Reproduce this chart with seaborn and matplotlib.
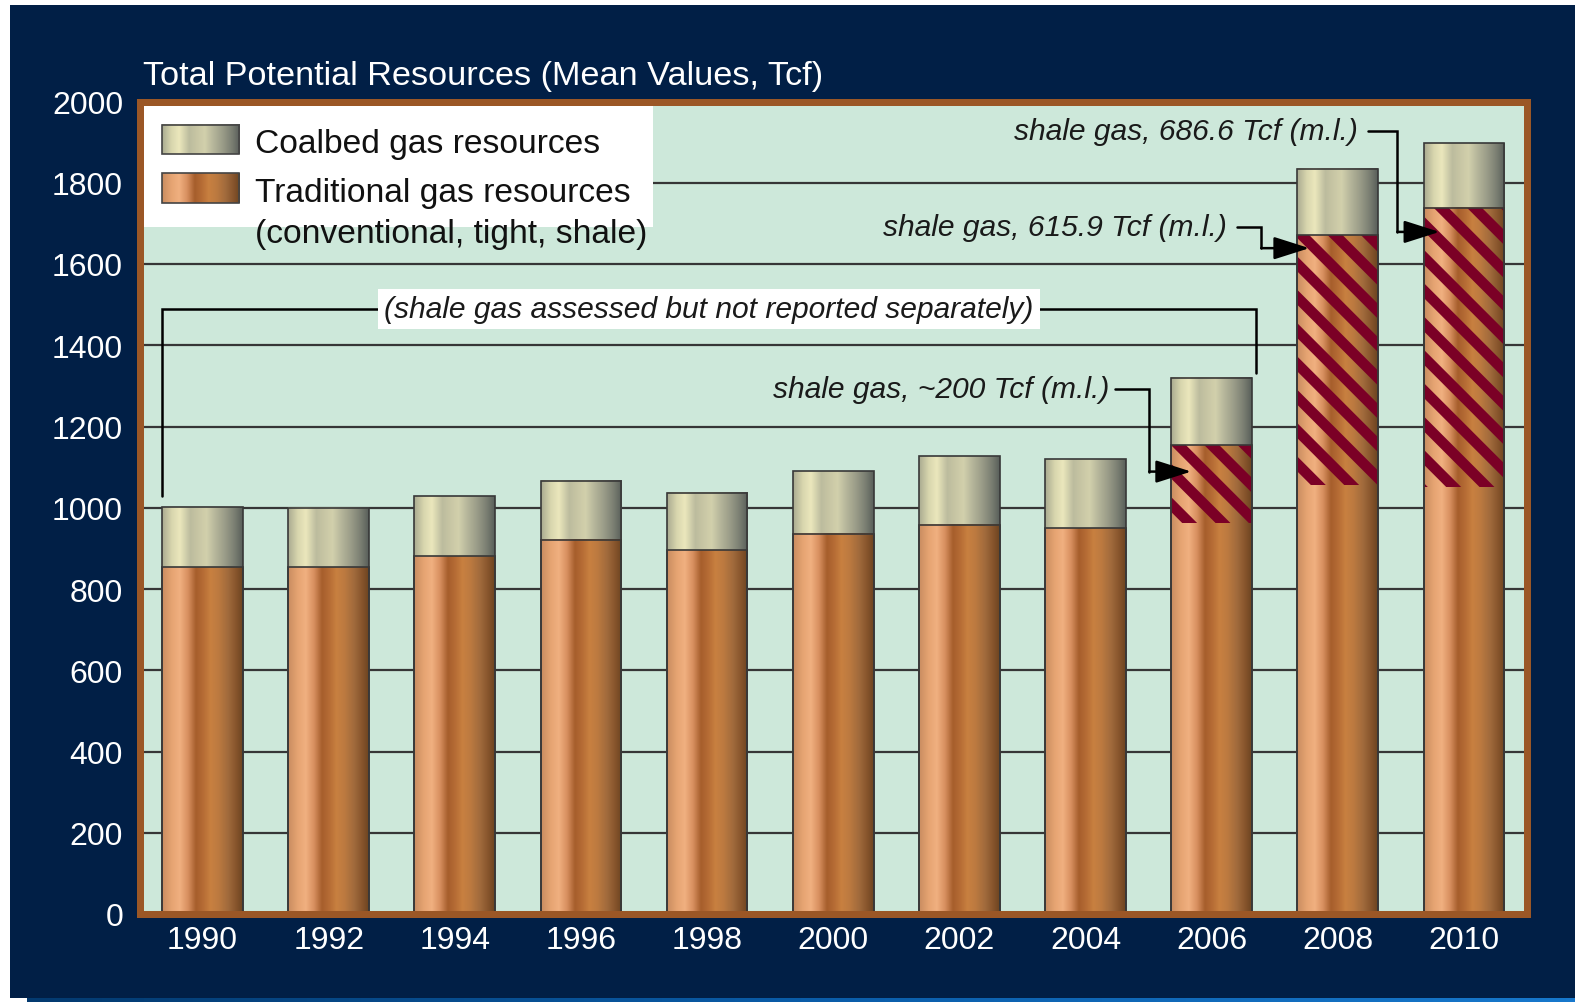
import numpy as np
import pandas as pd
import matplotlib
matplotlib.use("Agg")
import matplotlib.pyplot as plt
from matplotlib.colors import LinearSegmentedColormap
from matplotlib.patches import Rectangle
import seaborn as sns

# ---------------- data ----------------
years = ["1990", "1992", "1994", "1996", "1998", "2000", "2002", "2004", "2006", "2008", "2010"]
total_resources = [1001, 1000, 1028, 1067, 1037, 1090, 1127, 1119, 1320, 1834, 1897]
traditional_resources = [854, 853, 881, 921, 895, 936, 958, 950, 1154, 1671, 1738]
shale_years = ["2006", "2008", "2010"]
shale_resources = [192, 615.9, 686.6]
shale_labels = ["shale gas, ~200 Tcf (m.l.)", "shale gas, 615.9 Tcf (m.l.)", "shale gas, 686.6 Tcf (m.l.)"]
y_ticks = list(range(0, 2001, 200))
title_text = "Total Potential Resources (Mean Values, Tcf)"
legend_labels = ["Coalbed gas resources", "Traditional gas resources", "(conventional, tight, shale)"]
note_text = "(shale gas assessed but not reported separately)"

# ---------------- style ----------------
NAVY = "#011f46"
BROWN = "#9b5726"
MINT = "#cde8da"
EDGE = "#383838"
MAROON = "#7b0026"
TXT = "#1a1a1a"

sns.set_style("white")
plt.rcParams["font.family"] = ["Liberation Sans", "DejaVu Sans"]
plt.rcParams["hatch.linewidth"] = 3.8

copper = LinearSegmentedColormap.from_list("copper_bar", [
    (0.00, "#c88c60"), (0.12, "#e6a472"), (0.22, "#f0b080"), (0.32, "#d89060"),
    (0.42, "#a65e2c"), (0.50, "#b46a34"), (0.60, "#c88040"), (0.70, "#bc7a40"),
    (0.82, "#a06a3c"), (0.92, "#86542c"), (1.00, "#6c4420")])
coal = LinearSegmentedColormap.from_list("coal_bar", [
    (0.00, "#a9aa90"), (0.12, "#d8d6ae"), (0.22, "#ebe7bc"), (0.35, "#bcbc9e"),
    (0.45, "#c8c6a4"), (0.55, "#d2d0ac"), (0.65, "#b8b89c"), (0.78, "#9a9c88"),
    (0.90, "#7a7e72"), (1.00, "#585e5a")])
strip = LinearSegmentedColormap.from_list("strip", ["#033a70", "#0a5ca8", "#1778cc"])
grad = np.linspace(0, 1, 256).reshape(1, -1)

W, H, DPI = 1575, 1003, 200
fig = plt.figure(figsize=(W / DPI, H / DPI), dpi=DPI, facecolor="white")


def fx(px):
    return px / W


def fy(py):
    return 1 - py / H


# background panel (behind everything)
bg = fig.add_axes([fx(10), fy(999), 1 - fx(10), fy(6) - fy(999)], zorder=-10)
bg.set_facecolor(NAVY)
bg.set_xticks([])
bg.set_yticks([])
for s in bg.spines.values():
    s.set_visible(False)

sax = fig.add_axes([fx(27), 0, 1 - fx(27), 4 / H], zorder=-5)
sax.imshow(grad, cmap=strip, aspect="auto", interpolation="bilinear")
sax.set_axis_off()

ax = fig.add_axes([fx(139.5), fy(915), fx(1527) - fx(139.5), fy(102.5) - fy(915)], zorder=1)
ax.set_facecolor(MINT)

df = pd.DataFrame({"year": years, "total": total_resources, "trad": traditional_resources})

sns.barplot(data=df, x="year", y="total", color="#c8c6a4", width=0.64, errorbar=None,
            edgecolor=EDGE, linewidth=0.6, ax=ax, zorder=2)
n0 = len(ax.patches)
sns.barplot(data=df, x="year", y="trad", color="#c88040", width=0.64, errorbar=None,
            edgecolor=EDGE, linewidth=0.6, ax=ax, zorder=2)
coal_patches = ax.patches[:n0]
trad_patches = ax.patches[n0:]


def gradient_fill(patch, cmap, z):
    x0, y0 = patch.get_x(), patch.get_y()
    w, h = patch.get_width(), patch.get_height()
    ax.imshow(grad, extent=[x0, x0 + w, y0, y0 + h], aspect="auto", cmap=cmap,
              interpolation="bilinear", origin="lower", zorder=z)
    patch.set_facecolor("none")
    patch.set_zorder(2.6)


for p in coal_patches:
    gradient_fill(p, coal, 2.0)
for p in trad_patches:
    gradient_fill(p, copper, 2.1)

# shale hatched portion
idx = [years.index(y) for y in shale_years]
bottoms = [traditional_resources[i] - s for i, s in zip(idx, shale_resources)]
ax.bar(idx, shale_resources, bottom=bottoms, width=0.64, facecolor="none",
       edgecolor=MAROON, linewidth=0, hatch="\\\\", zorder=2.3)

ax.set_xlim(-0.5, 10.5)
ax.set_ylim(0, 2000)
ax.set_yticks(y_ticks)
ax.set_yticklabels([str(t) for t in y_ticks])
ax.set_xlabel("")
ax.set_ylabel("")
ax.yaxis.grid(True, color="#363636", linewidth=0.8)
ax.xaxis.grid(False)
ax.set_axisbelow(True)
ax.tick_params(axis="y", length=0, pad=5.9, labelsize=11.5, labelcolor="white")
ax.tick_params(axis="x", length=0, pad=4.0, labelsize=11.5, labelcolor="white")
for s in ax.spines.values():
    s.set_visible(True)
    s.set_color(BROWN)
    s.set_linewidth(7 * 72 / DPI)
    s.set_capstyle("projecting")
    s.set_zorder(10)

fig.text(fx(143), fy(85), title_text, ha="left", va="baseline", color="white", fontsize=12.35)

# legend (manual)
ax.add_patch(Rectangle((0, 0.8455), 0.370, 0.16, transform=ax.transAxes,
                       facecolor="white", edgecolor="none", zorder=5))
for (y0, y1), cmap in [((0.9354, 0.9711), coal), ((0.8751, 0.9120), copper)]:
    ax.imshow(grad, extent=[0.0162, 0.0717, y0, y1], transform=ax.transAxes,
              aspect="auto", cmap=cmap, interpolation="bilinear", zorder=6)
    ax.add_patch(Rectangle((0.0162, y0), 0.0717 - 0.0162, y1 - y0, transform=ax.transAxes,
                           facecolor="none", edgecolor="#444444", linewidth=0.6, zorder=6.5))
for lab, yb in zip(legend_labels, [0.9378, 0.8775, 0.8271]):
    ax.text(0.0832, yb, lab, transform=ax.transAxes, ha="left", va="baseline",
            color="#111111", fontsize=12.1, zorder=7)

ax.set_xlim(-0.5, 10.5)
ax.set_ylim(0, 2000)

# annotations
LW = 0.9
ax.plot([-0.32, -0.32, 8.354, 8.354], [1029, 1489, 1489, 1332], color="black", lw=LW,
        zorder=3, solid_joinstyle="miter")
ax.text(4.014, 1489, note_text, ha="center", va="center", style="italic", color=TXT,
        fontsize=10.8, zorder=4,
        bbox=dict(boxstyle="square,pad=0.2", facecolor="white", edgecolor="none"))

ann = [
    # text_x, text_y, start_x, corner_x, down_y, tip_x
    (7.188, 1293, 7.23, 7.505, 1089, 7.838),
    (8.124, 1691, 8.203, 8.393, 1639, 8.774),
    (9.163, 1928, 9.242, 9.472, 1679, 9.806),
]
for lab, (tx, ty, sx, cx, dy, tip) in zip(shale_labels, ann):
    ax.text(tx, ty, lab, ha="right", va="center", style="italic", color=TXT,
            fontsize=10.8, zorder=4)
    ax.plot([sx, cx, cx], [ty, ty, dy], color="black", lw=LW, zorder=3,
            solid_joinstyle="miter")
    ax.annotate("", xy=(tip, dy), xytext=(cx, dy),
                arrowprops=dict(arrowstyle="-|>,head_length=1.1,head_width=0.35",
                                color="black", lw=LW, shrinkA=0, shrinkB=0,
                                mutation_scale=10), zorder=3.5)

fig.savefig("out.png", dpi=DPI, facecolor=fig.get_facecolor())
